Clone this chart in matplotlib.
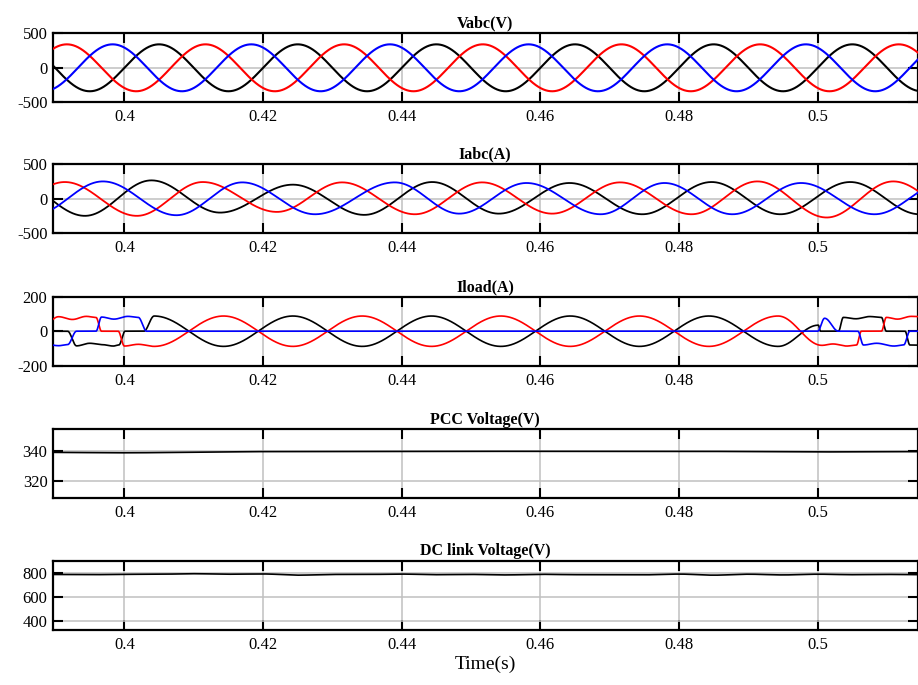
import numpy as np
import matplotlib
matplotlib.use("Agg")
from matplotlib import pyplot as plt

# ----------- values (peaks / breakpoints) -----------
# Vabc(V): times and values of each phase's peaks
va_t = [0.385, 0.395, 0.405, 0.415, 0.425, 0.435, 0.445, 0.455, 0.465, 0.475, 0.485, 0.495, 0.505, 0.515, 0.525]
va_v = [340, -340, 340, -340, 340, -340, 340, -340, 340, -340, 340, -340, 340, -340, 340]
vb_t = [0.3817, 0.3917, 0.4017, 0.4117, 0.4217, 0.4317, 0.4417, 0.4517, 0.4617, 0.4717, 0.4817, 0.4917, 0.5017, 0.5117, 0.5217]
vb_v = [-340, 340, -340, 340, -340, 340, -340, 340, -340, 340, -340, 340, -340, 340, -340]
vc_t = [0.3783, 0.3883, 0.3983, 0.4083, 0.4183, 0.4283, 0.4383, 0.4483, 0.4583, 0.4683, 0.4783, 0.4883, 0.4983, 0.5083, 0.5183]
vc_v = [340, -340, 340, -340, 340, -340, 340, -340, 340, -340, 340, -340, 340, -340, 340]

# Iabc(A)
ia_t = [0.3843, 0.3943, 0.4039, 0.4138, 0.4243, 0.4346, 0.4444, 0.4540, 0.4642, 0.4747, 0.4847, 0.4946, 0.5047, 0.5147, 0.5247]
ia_v = [250, -247, 267, -200, 205, -233, 243, -215, 229, -224, 243, -224, 243, -224, 240]
ib_t = [0.3814, 0.3914, 0.4018, 0.4113, 0.4220, 0.4314, 0.4419, 0.4516, 0.4617, 0.4715, 0.4818, 0.4913, 0.5013, 0.5109, 0.5209]
ib_v = [-240, 243, -247, 243, -190, 238, -224, 238, -215, 238, -224, 252, -271, 252, -240]
ic_t = [0.3869, 0.3969, 0.4075, 0.4170, 0.4275, 0.4390, 0.4483, 0.4580, 0.4687, 0.4779, 0.4877, 0.4976, 0.5082, 0.5182]
ic_v = [-235, 252, -238, 238, -224, 238, -215, 229, -224, 229, -224, 229, -224, 229]

# Iload(A): rectifier blocks before 0.403 s and after 0.5 s, two-phase sine between
la_t = [0.3880, 0.3918, 0.3931, 0.3950, 0.3968, 0.3984, 0.3992, 0.4001, 0.4028, 0.4043,
        0.4143, 0.4243, 0.4343, 0.4443, 0.4543, 0.4643, 0.4743, 0.4843, 0.4943,
        0.5001, 0.5004, 0.5030, 0.5037, 0.5055, 0.5075, 0.5092, 0.5099, 0.5126, 0.5133, 0.5160]
la_v = [0, 0, -85, -70, -78, -86, -80, 0, 0, 88,
        -88, 88, -88, 88, -88, 88, -88, 88, -88,
        35, 0, 0, 80, 72, 85, 80, 0, 0, -80, -82]
lb_t = [0.3885, 0.3905, 0.3925, 0.3945, 0.3959, 0.3967, 0.3991, 0.4000, 0.4020, 0.4043,
        0.4143, 0.4243, 0.4343, 0.4443, 0.4543, 0.4643, 0.4743, 0.4843, 0.4943,
        0.5006, 0.5022, 0.5042, 0.5056, 0.5063, 0.5092, 0.5099, 0.5115, 0.5135, 0.5160]
lb_v = [40, 84, 68, 86, 80, 0, 0, -86, -76, -88,
        88, -88, 88, -88, 88, -88, 88, -88, 88,
        -82, -74, -86, -80, 0, 0, 80, 70, 86, 82]
lc_t = [0.3880, 0.3905, 0.3918, 0.3931, 0.3959, 0.3967, 0.3985, 0.4005, 0.4020, 0.4032,
        0.5000, 0.5010, 0.5030, 0.5058, 0.5066, 0.5085, 0.5110, 0.5124, 0.5133, 0.5160]
lc_v = [-70, -84, -78, 0, 0, 82, 70, 86, 80, 0,
        0, 75, 0, 0, -80, -70, -86, -80, 0, 0]

# PCC Voltage(V)
pcc_t = [0.388, 0.400, 0.410, 0.420, 0.440, 0.460, 0.480, 0.500, 0.516]
pcc_v = [339.3, 339.0, 339.3, 339.8, 340.0, 340.0, 340.0, 339.6, 339.8]

# DC link Voltage(V)
dc_t = [0.388, 0.395, 0.400, 0.405, 0.410, 0.415, 0.420, 0.425, 0.430, 0.435, 0.440, 0.445, 0.450,
        0.455, 0.460, 0.465, 0.470, 0.475, 0.480, 0.485, 0.490, 0.495, 0.500, 0.505, 0.510, 0.516]
dc_v = [792, 790, 793, 794, 798, 794, 796, 786, 792, 792, 795, 790, 792,
        788, 793, 790, 791, 789, 795, 786, 794, 788, 794, 790, 792, 790]

xticks = [0.4, 0.42, 0.44, 0.46, 0.48, 0.5]
colors = ['black', 'red', 'blue']


def eased(t, kt, kv):
    # cosine-shaped segments between the read breakpoints
    kt = np.asarray(kt)
    kv = np.asarray(kv, dtype=float)
    i = np.clip(np.searchsorted(kt, t) - 1, 0, len(kt) - 2)
    s = np.clip((t - kt[i]) / (kt[i + 1] - kt[i]), 0, 1)
    return kv[i] + (kv[i + 1] - kv[i]) * (1 - np.cos(np.pi * s)) / 2


t = np.linspace(0.388, 0.516, 6000)

plt.rcParams['font.family'] = ['Liberation Serif', 'DejaVu Serif']
plt.rcParams['axes.unicode_minus'] = False

fig = plt.figure(figsize=(9.18, 6.85), dpi=100)

left, width = 53 / 918, 864.5 / 918
tops = [33.3, 164.3, 296.7, 429.3, 561]
h_px = 69

panels = [
    ('Vabc(V)', [(va_t, va_v), (vb_t, vb_v), (vc_t, vc_v)], (-500, 500), [-500, 0, 500], 1.5),
    ('Iabc(A)', [(ia_t, ia_v), (ib_t, ib_v), (ic_t, ic_v)], (-500, 500), [-500, 0, 500], 1.3),
    ('Iload(A)', [(la_t, la_v), (lb_t, lb_v), (lc_t, lc_v)], (-200, 200), [-200, 0, 200], 1.2),
    ('PCC Voltage(V)', [(pcc_t, pcc_v)], (308, 355), [320, 340], 1.2),
    ('DC link Voltage(V)', [(dc_t, dc_v)], (325, 905), [400, 600, 800], 1.2),
]

axes = []
for k, (title, series, ylim, yticks, lw) in enumerate(panels):
    top = tops[k]
    ax = fig.add_axes([left, 1 - (top + h_px) / 685, width, h_px / 685])
    for j, (kt, kv) in enumerate(series):
        ax.plot(t, eased(t, kt, kv), color=colors[j], lw=lw, zorder=3)
    ax.set_xlim(0.3897, 0.5144)
    ax.set_ylim(*ylim)
    ax.set_xticks(xticks)
    ax.set_xticklabels(['%g' % v for v in xticks])
    ax.set_yticks(yticks)
    ax.grid(True, color='#c0c0c0', lw=1.1, zorder=0)
    ax.tick_params(direction='in', length=7, width=1.5, labelsize=12,
                   top=True, right=True, pad=5, colors='black')
    ax.tick_params(axis='y', pad=4)
    for sp in ax.spines.values():
        sp.set_linewidth(1.6)
    ax.set_title(title, fontsize=11.5, fontweight='bold', pad=4)
    axes.append(ax)

axes[-1].set_xlabel('Time(s)', fontsize=14, labelpad=2)

fig.savefig('out.png', dpi=100)
